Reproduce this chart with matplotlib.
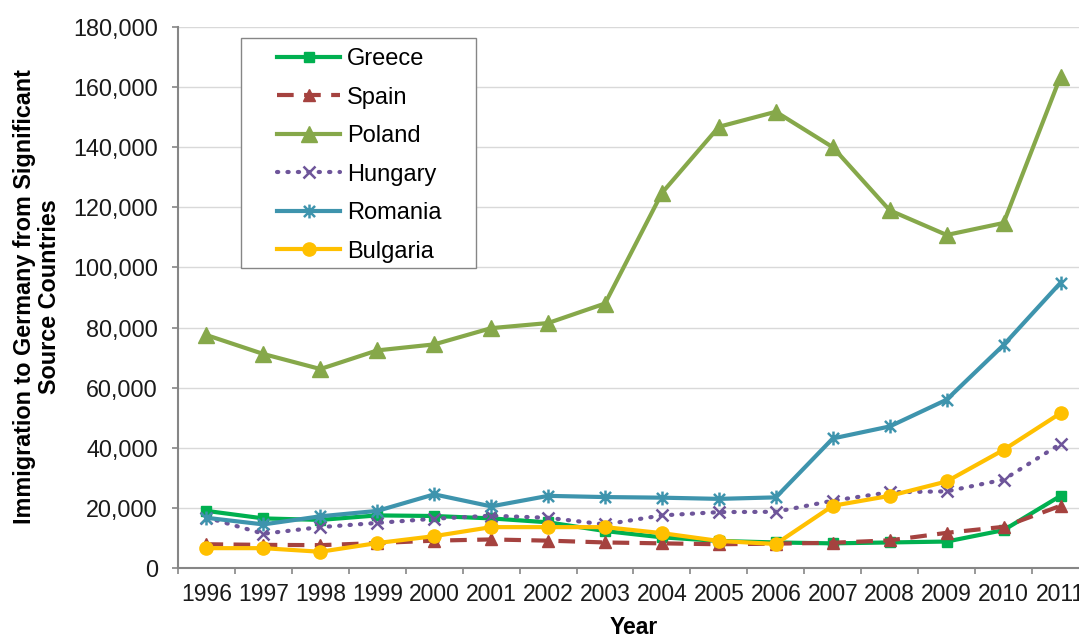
import matplotlib
matplotlib.use("Agg")
import matplotlib.pyplot as plt
from matplotlib.ticker import FuncFormatter, FixedLocator
from matplotlib.patches import Rectangle
from matplotlib.path import Path

plt.rcParams["font.family"] = ["Liberation Sans", "DejaVu Sans"]

years = ["1996", "1997", "1998", "1999", "2000", "2001", "2002", "2003",
         "2004", "2005", "2006", "2007", "2008", "2009", "2010", "2011"]
greece = [19000, 16500, 16000, 17500, 17300, 16500, 15200, 12300,
          10200, 9000, 8500, 8200, 8500, 8800, 12600, 24000]
spain = [7900, 7700, 7600, 8300, 9100, 9500, 9100, 8500,
         8200, 7900, 8100, 8400, 9200, 11700, 13700, 20700]
poland = [77500, 71200, 66200, 72400, 74400, 79800, 81500, 88000,
          124800, 146800, 151800, 140000, 119000, 110800, 114800, 163500]
hungary = [16800, 11400, 13600, 15000, 16400, 17400, 16700, 14500,
           17500, 18600, 18700, 22400, 25200, 25500, 29400, 41300]
romania = [16700, 14500, 17200, 19000, 24500, 20500, 24000, 23600,
           23400, 23000, 23500, 43100, 47100, 56000, 74200, 94900]
bulgaria = [6600, 6600, 5400, 8300, 10600, 13600, 13600, 13600,
            11600, 9000, 8000, 20700, 24000, 28800, 39300, 51500]

W, H = 1079, 637
fig = plt.figure(figsize=(W / 100, H / 100), dpi=100)
AX_L, AX_R, AX_T, AX_B = 178, 1089, 27, 568
ax = fig.add_axes([AX_L / W, (H - AX_B) / H, (AX_R - AX_L) / W, (AX_B - AX_T) / H])


def axc(px, py):
    return (px - AX_L) / (AX_R - AX_L), (AX_B - py) / (AX_B - AX_T)


star = Path([(-1, -1), (1, 1), (-1, 1), (1, -1), (0, -1.25), (0, 1.25)],
            [Path.MOVETO, Path.LINETO, Path.MOVETO, Path.LINETO, Path.MOVETO, Path.LINETO])

x = list(range(len(years)))
lw = 3.0
ax.plot(x, greece, color="#00B050", lw=lw, marker="s", ms=7.5, label="Greece", zorder=3)
ax.plot(x, spain, color="#A5423F", lw=lw, ls=(0, (4, 2.5)), marker="^", ms=8.5, label="Spain", zorder=3)
ax.plot(x, poland, color="#86A84A", lw=lw, marker="^", ms=11, label="Poland", zorder=3)
ax.plot(x, hungary, color="#6E559A", lw=lw, ls=(0, (0.3, 2.2)), dash_capstyle="round",
        marker="x", ms=9, mew=1.8, label="Hungary", zorder=3)
ax.plot(x, romania, color="#3E94AD", lw=lw, marker=star, ms=10, mew=1.8, mfc="none",
        label="Romania", zorder=3)
ax.plot(x, bulgaria, color="#FFC000", lw=lw, marker="o", ms=9.5, label="Bulgaria", zorder=3)

ax.set_xlim(-0.5, len(years) - 0.5)
ax.set_ylim(0, 180000)
ax.set_yticks(range(0, 180001, 20000))
ax.yaxis.set_major_formatter(FuncFormatter(lambda v, p: f"{int(v):,}"))
ax.set_xticks(x)
ax.set_xticklabels(years)
ax.xaxis.set_minor_locator(FixedLocator([i - 0.5 for i in range(len(years) + 1)]))
ax.tick_params(axis="x", which="major", length=0, labelsize=16.5, pad=11, colors="#1a1a1a")
ax.tick_params(axis="x", which="minor", length=4.5, width=1.2, color="#868686")
ax.tick_params(axis="y", length=4.5, width=1.2, color="#868686", labelsize=16.8,
               labelcolor="#1a1a1a", pad=10)

ax.grid(axis="y", color="#D9D9D9", lw=1.0, zorder=0)
ax.set_axisbelow(True)
for s in ["top", "right"]:
    ax.spines[s].set_visible(False)
for s in ["left", "bottom"]:
    ax.spines[s].set_color("#868686")
    ax.spines[s].set_linewidth(1.5)

ax.set_xlabel("Year", fontsize=16.5, fontweight="bold", labelpad=7)
fig.text(37 / W, (H - 297) / H, "Immigration to Germany from Significant\nSource Countries",
         rotation=90, ha="center", va="center", fontsize=16.8, fontweight="bold",
         multialignment="center", linespacing=1.15)

# legend frame
x0, y0 = axc(241, 268)
x1, y1 = axc(476, 38)
ax.add_patch(Rectangle((x0, y0), x1 - x0, y1 - y0, transform=ax.transAxes,
                       facecolor="white", edgecolor="#868686", lw=1.0, zorder=2.5))
lx, ly = axc(277, 48)
leg = ax.legend(loc="upper left", bbox_to_anchor=(lx, ly), fontsize=17, frameon=False,
                handlelength=2.67, borderpad=0, labelspacing=0.7, handletextpad=0.3,
                borderaxespad=0)
leg.set_zorder(4)

fig.savefig("out.png", dpi=100)
